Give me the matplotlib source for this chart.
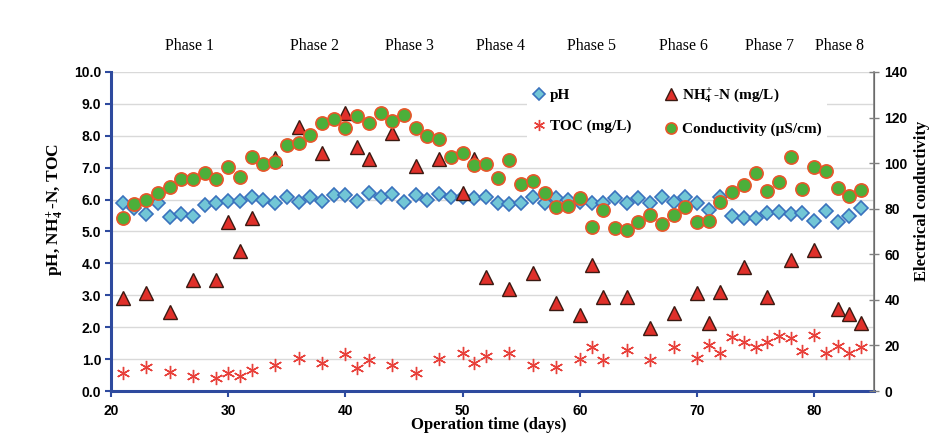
import matplotlib
matplotlib.use("Agg")
import matplotlib.pyplot as plt
from matplotlib.lines import Line2D

# ---------------- Data ----------------
days = [21, 22, 23, 24, 25, 26, 27, 28, 29, 30, 31, 32, 33, 34, 35, 36,
        37, 38, 39, 40, 41, 42, 43, 44, 45, 46, 47, 48, 49, 50, 51, 52,
        53, 54, 55, 56, 57, 58, 59, 60, 61, 62, 63, 64, 65, 66, 67, 68,
        69, 70, 71, 72, 73, 74, 75, 76, 77, 78, 79, 80, 81, 82, 83, 84]

ph = [5.88, 5.73, 5.55, 5.88, 5.44, 5.55, 5.49, 5.83, 5.88, 5.96, 5.96, 6.09,
      5.99, 5.88, 6.09, 5.94, 6.09, 5.96, 6.14, 6.14, 5.97, 6.22, 6.07, 6.17,
      5.94, 6.14, 5.99, 6.17, 6.09, 6.09, 6.04, 6.07, 5.88, 5.86, 5.88, 6.09,
      5.90, 6.04, 5.99, 5.94, 5.88, 5.88, 6.06, 5.90, 6.06, 5.90, 6.09, 5.94,
      6.09, 5.90, 5.67, 6.07, 5.49, 5.41, 5.41, 5.57, 5.62, 5.54, 5.57, 5.34,
      5.65, 5.31, 5.49, 5.75]

conductivity = [75.8, 82.0, 83.8, 86.7, 89.4, 93.0, 93.0, 95.5, 93.0, 98.4,
                94.0, 102.8, 99.6, 100.6, 108.0, 108.7, 112.3, 117.5, 119.2,
                115.3, 120.7, 117.8, 121.9, 118.5, 121.1, 115.3, 111.9, 110.4,
                102.8, 104.6, 99.2, 99.6, 93.3, 101.4, 90.7, 92.2, 86.7, 80.9,
                81.3, 84.6, 72.1, 79.4, 71.4, 70.7, 74.3, 77.2, 73.1, 77.2,
                80.9, 74.0, 74.6, 83.1, 87.5, 90.4, 95.5, 87.9, 91.9, 102.5,
                88.5, 98.4, 96.5, 88.9, 85.6, 88.2]

nh4_days = [21, 23, 25, 27, 29, 30, 31, 32, 34, 36, 38, 40, 41, 42, 44, 46,
            48, 50, 51, 52, 54, 56, 58, 60, 61, 62, 64, 66, 68, 70, 71, 72,
            74, 76, 78, 80, 82, 83, 84]
nh4 = [2.90, 3.06, 2.49, 3.48, 3.48, 5.30, 4.40, 5.41, 7.29, 8.29, 7.47, 8.72,
       7.64, 7.26, 8.08, 7.05, 7.26, 6.20, 7.28, 3.56, 3.19, 3.71, 2.75, 2.38,
       3.95, 2.96, 2.96, 1.96, 2.46, 3.08, 2.12, 3.11, 3.90, 2.96, 4.11, 4.42,
       2.56, 2.41, 2.14]

toc_days = [21, 23, 25, 27, 29, 30, 31, 32, 34, 36, 38, 40, 41, 42, 44, 46,
            48, 50, 51, 52, 54, 56, 58, 60, 61, 62, 64, 66, 68, 70, 71, 72,
            73, 74, 75, 76, 77, 78, 79, 80, 81, 82, 83, 84]
toc = [0.55, 0.74, 0.61, 0.47, 0.40, 0.55, 0.47, 0.66, 0.82, 1.02, 0.87, 1.16,
       0.71, 0.97, 0.82, 0.55, 0.99, 1.18, 0.87, 1.10, 1.20, 0.82, 0.74, 1.00,
       1.37, 0.97, 1.29, 0.97, 1.39, 1.02, 1.44, 1.18, 1.70, 1.55, 1.37, 1.55,
       1.72, 1.65, 1.26, 1.76, 1.20, 1.41, 1.18, 1.39]

phase_names = ["Phase 1", "Phase 2", "Phase 3", "Phase 4",
               "Phase 5", "Phase 6", "Phase 7", "Phase 8"]
phase_days = [26.7, 37.4, 45.5, 53.2, 61.0, 68.8, 76.2, 82.2]

x_ticks = [20, 30, 40, 50, 60, 70, 80]
left_ticks = [0, 1, 2, 3, 4, 5, 6, 7, 8, 9, 10]
right_ticks = [0, 20, 40, 60, 80, 100, 120, 140]

# ---------------- Style ----------------
plt.rcParams['mathtext.fontset'] = 'custom'
plt.rcParams['mathtext.rm'] = 'Liberation Serif:bold'
plt.rcParams['mathtext.it'] = 'Liberation Serif:italic:bold'
plt.rcParams['mathtext.bf'] = 'Liberation Serif:bold'

tick_font = ['Liberation Sans Narrow', 'Liberation Sans', 'DejaVu Sans']
serif = ['Liberation Serif', 'DejaVu Serif']
axis_blue = '#2e4a9e'

fig = plt.figure(figsize=(9.47, 4.36), dpi=100)
ax1 = fig.add_axes([0.1172, 0.1032, 0.8057, 0.7317])
ax2 = ax1.twinx()

# left axis series
ax1.plot(days, ph, linestyle='none', marker='D', markersize=7.5,
         markerfacecolor='#72c6d6', markeredgecolor='#3a72bd', markeredgewidth=1.2)
ax1.plot(nh4_days, nh4, linestyle='none', marker='^', markersize=9.5,
         markerfacecolor='#e0302a', markeredgecolor='#3a1a12', markeredgewidth=1.0)
ax1.plot(toc_days, toc, linestyle='none', marker=(6, 2, 0), markersize=9.5,
         color='#e8403a', markeredgewidth=1.0)

# right axis series
ax2.plot(days, conductivity, linestyle='none', marker='o', markersize=9.5,
         markerfacecolor='#4caf3a', markeredgecolor='#e8562a', markeredgewidth=1.2)

ax1.set_xlim(20, 85.1)
ax1.set_ylim(0, 10)
ax2.set_ylim(0, 140)

ax1.set_xticks(x_ticks)
ax1.set_yticks(left_ticks)
ax1.set_yticklabels([f"{v:.1f}" for v in left_ticks])
ax2.set_yticks(right_ticks)

ax1.yaxis.grid(True, color='#d9d9d9', linewidth=1.0)
ax1.set_axisbelow(True)

for ax in (ax1, ax2):
    ax.spines['top'].set_visible(False)
ax1.spines['left'].set_color(axis_blue)
ax1.spines['left'].set_linewidth(2.2)
ax1.spines['bottom'].set_color(axis_blue)
ax1.spines['bottom'].set_linewidth(2.2)
ax2.spines['left'].set_visible(False)
ax2.spines['bottom'].set_visible(False)
ax2.spines['right'].set_color('#808080')
ax2.spines['right'].set_linewidth(1.2)

ax1.tick_params(axis='x', direction='out', length=4, width=1.5, color=axis_blue, pad=5)
ax1.tick_params(axis='y', direction='out', length=4, width=1.5, color=axis_blue, pad=3)
ax2.tick_params(axis='y', direction='inout', length=7, width=1.0, color='#808080', pad=4)

for lab in ax1.get_xticklabels() + ax1.get_yticklabels() + ax2.get_yticklabels():
    lab.set_fontfamily(tick_font)
    lab.set_fontweight('bold')
    lab.set_fontsize(10)

ax1.set_ylabel(r'pH, $\mathregular{NH_4^{\!+}}$-N, TOC', family=serif,
               fontweight='bold', fontsize=12.5)
ax1.yaxis.set_label_coords(-0.060, 0.57)
ax2.set_ylabel('Electrical conductivity', family=serif, fontweight='bold', fontsize=12)
ax2.yaxis.set_label_coords(1.053, 0.596)
ax1.set_xlabel('Operation time (days)', family=serif, fontweight='bold', fontsize=12)
ax1.xaxis.set_label_coords(0.495, -0.083)

# phase labels above the plot
for name, d in zip(phase_names, phase_days):
    ax1.text(d, 1.081, name, transform=ax1.get_xaxis_transform(), ha='center',
             va='center', family=serif, fontsize=11.5, clip_on=False)

# legend (two columns, white box over the grid)
handles = [
    Line2D([], [], linestyle='none', marker='D', markersize=6.5,
           markerfacecolor='#72c6d6', markeredgecolor='#3a72bd', markeredgewidth=1.2),
    Line2D([], [], linestyle='none', marker=(6, 2, 0), markersize=8,
           color='#e8403a', markeredgewidth=1.0),
    Line2D([], [], linestyle='none', marker='^', markersize=8.5,
           markerfacecolor='#e0302a', markeredgecolor='#3a1a12', markeredgewidth=1.0),
    Line2D([], [], linestyle='none', marker='o', markersize=8,
           markerfacecolor='#4caf3a', markeredgecolor='#e8562a', markeredgewidth=1.2),
]
labels = ['pH', 'TOC (mg/L)', r'$\mathregular{NH_4^{\!+}}$-N (mg/L)', u'Conductivity (\u00b5S/cm)']
leg = ax2.legend(handles, labels, ncol=2, loc='upper left', bbox_to_anchor=(0.545, 0.975),
                 frameon=True, fancybox=False, edgecolor='none', facecolor='white',
                 framealpha=1.0, borderaxespad=0, handlelength=0.8, handletextpad=0.3,
                 columnspacing=2.2, labelspacing=1.15,
                 prop={'family': serif, 'weight': 'bold', 'size': 11})

fig.savefig('out.png', dpi=100)
